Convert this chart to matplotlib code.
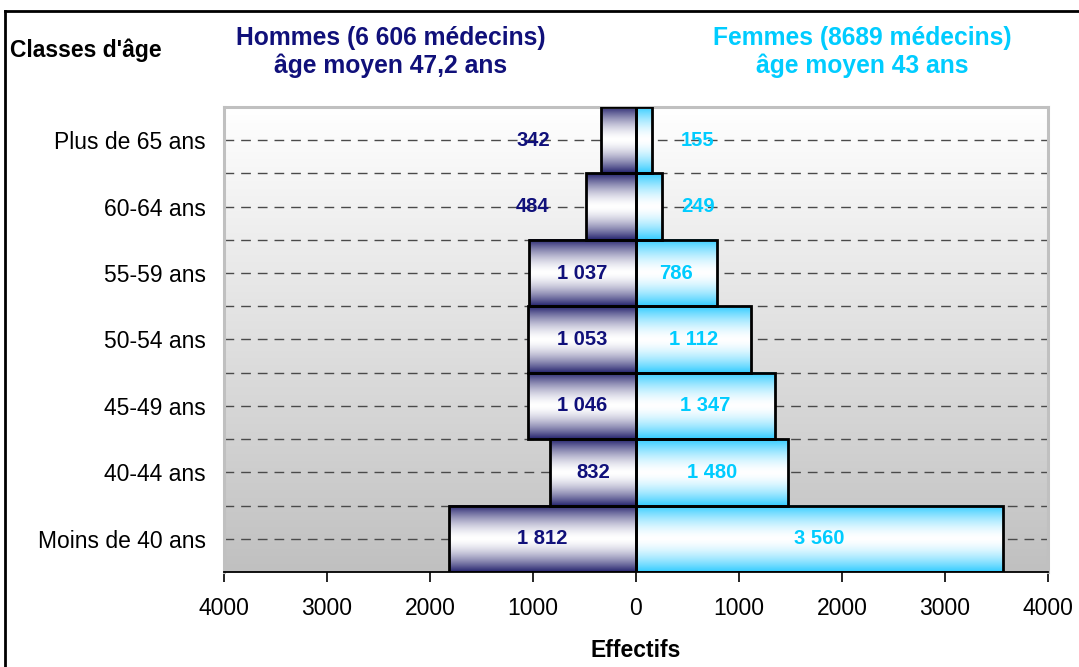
import numpy as np
import matplotlib
matplotlib.use("Agg")
import matplotlib.pyplot as plt
from matplotlib.colors import to_rgb
from matplotlib.lines import Line2D

categories = ["Moins de 40 ans", "40-44 ans", "45-49 ans", "50-54 ans",
              "55-59 ans", "60-64 ans", "Plus de 65 ans"]
hommes = [1812, 832, 1046, 1053, 1037, 484, 342]
femmes = [3560, 1480, 1347, 1112, 786, 249, 155]
xticks = [-4000, -3000, -2000, -1000, 0, 1000, 2000, 3000, 4000]

plt.rcParams['font.family'] = ['Liberation Sans', 'DejaVu Sans']

NAVY = "#10107a"
CYAN = "#00ccff"
MEN_EDGE = to_rgb("#25236e")
WOMEN_EDGE = to_rgb("#33ccff")

fig = plt.figure(figsize=(10.79, 6.67), dpi=100)
ax = fig.add_axes([224/1079, 1-572/667, (1048-224)/1079, (572-107)/667])

xmin, xmax = -4000, 4000
ymin, ymax = -0.5, len(categories) - 0.5

# background gradient (white top -> grey bottom)
grad = np.linspace(0, 1, 256)[:, None]
top = np.array([1.0, 1.0, 1.0])
bot = np.array([0.753, 0.753, 0.753])
bg = top + (bot - top) * grad
bg = np.repeat(bg[:, None, :], 2, axis=1)
ax.imshow(bg, extent=(xmin, xmax, ymin, ymax), origin='upper', aspect='auto', zorder=0)

# dashed grid at centres and boundaries
for i in range(len(categories)):
    ax.axhline(i, color="#4a4a4a", lw=1.0, ls=(0, (7, 5)), zorder=1)
    if i < len(categories) - 1:
        ax.axhline(i + 0.5, color="#4a4a4a", lw=1.0, ls=(0, (7, 5)), zorder=1)


def gradient_bar(x0, x1, yc, h, edge):
    t = np.abs(np.linspace(-1, 1, 128))
    w = t ** 1.6
    e = np.array(edge)
    cols = np.ones(3) + (e - np.ones(3)) * w[:, None]
    img = np.repeat(cols[:, None, :], 2, axis=1)
    ax.imshow(img, extent=(x0, x1, yc - h/2, yc + h/2), origin='upper',
              aspect='auto', zorder=2, interpolation='bilinear')
    ax.add_patch(plt.Rectangle((x0, yc - h/2), x1 - x0, h, fill=False,
                               edgecolor='black', lw=2.0, zorder=3))


for i, (m, f) in enumerate(zip(hommes, femmes)):
    gradient_bar(-m, 0, i, 1.0, MEN_EDGE)
    gradient_bar(0, f, i, 1.0, WOMEN_EDGE)
    fmt = lambda v: f"{v:,}".replace(",", " ")
    mx = -m / 2 if m > 600 else -1000
    fx = f / 2 if f > 600 else 600
    ax.text(mx, i, fmt(m), ha='center', va='center', color=NAVY,
            fontsize=14.5, fontweight='bold', zorder=4)
    ax.text(fx, i, fmt(f), ha='center', va='center', color=CYAN,
            fontsize=14.5, fontweight='bold', zorder=4)

ax.set_xlim(xmin, xmax)
ax.set_ylim(ymin, ymax)
ax.set_xticks(xticks)
ax.set_xticklabels([str(abs(v)) for v in xticks], fontsize=16.5)
ax.set_yticks(range(len(categories)))
ax.set_yticklabels(categories, fontsize=16.5)
ax.tick_params(axis='y', length=0, pad=13)
ax.tick_params(axis='x', length=7, width=1.2, direction='out', pad=11, color='black')

for s in ['top', 'right', 'left']:
    ax.spines[s].set_color('#c0c0c0')
    ax.spines[s].set_linewidth(2.2)
ax.spines['bottom'].set_color('black')
ax.spines['bottom'].set_linewidth(1.3)
ax.spines['bottom'].set_zorder(5)

ax.set_xlabel("Effectifs", fontsize=16.5, fontweight='bold', labelpad=14)

fig.text(10/1079, 1-50/667, "Classes d'âge", fontsize=16.5, fontweight='bold',
         ha='left', va='center', color='black')
fig.text(391/1079, 1-52/667, "Hommes (6 606 médecins)\nâge moyen 47,2 ans",
         fontsize=17.7, fontweight='bold', ha='center', va='center',
         color=NAVY, linespacing=1.22)
fig.text(862/1079, 1-52/667, "Femmes (8689 médecins)\nâge moyen 43 ans",
         fontsize=17.7, fontweight='bold', ha='center', va='center',
         color=CYAN, linespacing=1.22)

# figure border (top and left)
fig.add_artist(Line2D([5/1079, 1.0], [1-11/667, 1-11/667], color='black', lw=2,
                      transform=fig.transFigure))
fig.add_artist(Line2D([5/1079, 5/1079], [0, 1-11/667], color='black', lw=2,
                      transform=fig.transFigure))

fig.savefig("out.png", dpi=100)
